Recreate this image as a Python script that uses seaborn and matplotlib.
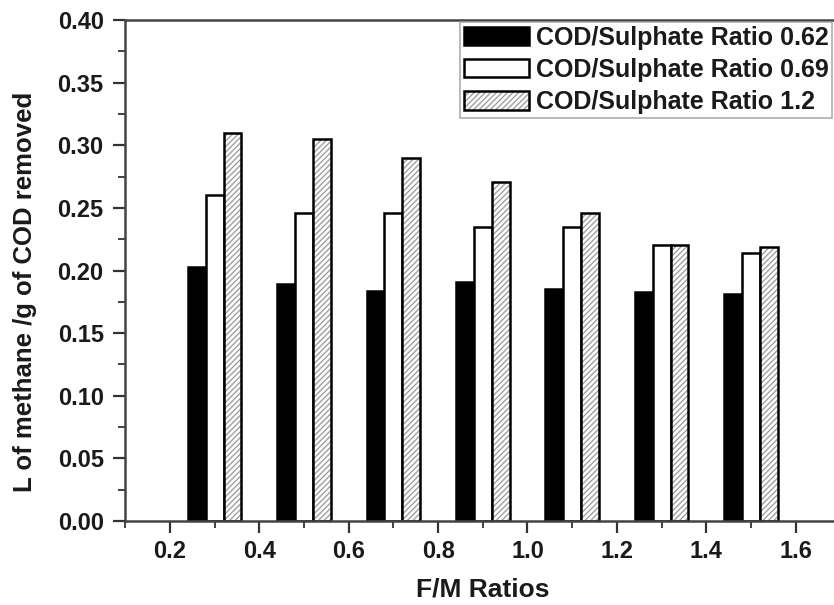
import matplotlib
matplotlib.use("Agg")
import matplotlib.pyplot as plt
from matplotlib.patches import Patch, Rectangle
from matplotlib.legend_handler import HandlerTuple
from matplotlib.ticker import MultipleLocator
import seaborn as sns
import pandas as pd

# F/M ratio groups and methane yields (L CH4 / g COD removed)
fm_ratios = [0.3, 0.5, 0.7, 0.9, 1.1, 1.3, 1.5]
series_names = ["COD/Sulphate Ratio 0.62", "COD/Sulphate Ratio 0.69", "COD/Sulphate Ratio 1.2"]
ratio_062 = [0.203, 0.189, 0.184, 0.191, 0.185, 0.183, 0.181]
ratio_069 = [0.260, 0.246, 0.246, 0.235, 0.235, 0.220, 0.214]
ratio_120 = [0.310, 0.305, 0.290, 0.271, 0.246, 0.220, 0.219]

x_tick_labels = ["0.2", "0.4", "0.6", "0.8", "1.0", "1.2", "1.4", "1.6"]
y_tick_labels = ["0.00", "0.05", "0.10", "0.15", "0.20", "0.25", "0.30", "0.35", "0.40"]

df = pd.DataFrame({
    "fm": fm_ratios * 3,
    "series": [s for s in series_names for _ in fm_ratios],
    "yield": ratio_062 + ratio_069 + ratio_120,
})

sns.set_theme(style="ticks")
plt.rcParams["font.family"] = ["Liberation Sans", "DejaVu Sans"]
plt.rcParams["font.weight"] = "bold"
plt.rcParams["hatch.linewidth"] = 1.0

fig = plt.figure(figsize=(8.34, 6.05), dpi=100)
ax = fig.add_axes([0.1502, 0.1388, 0.8574, 0.8281])

sns.barplot(data=df, x="fm", y="yield", hue="series", hue_order=series_names,
            native_scale=True, width=0.6, dodge=True,
            palette=["black", "white", "white"], edgecolor="black",
            linewidth=1.8, saturation=1, errorbar=None, legend=False, ax=ax)

hatch_color = "#a0a0a0"
hatch = "//////"
# hatched series: gray hatch with a black outline drawn on top
for p in ax.containers[2].patches:
    p.set_hatch(hatch)
    p.set_edgecolor(hatch_color)
    p.set_linewidth(0)
    ax.add_patch(Rectangle(p.get_xy(), p.get_width(), p.get_height(),
                           fill=False, edgecolor="black", linewidth=1.8,
                           zorder=p.get_zorder() + 0.1))

ax.set_xlim(0.1, 1.7)
ax.set_ylim(0.0, 0.40)
ax.xaxis.set_minor_locator(MultipleLocator(0.1))
ax.yaxis.set_minor_locator(MultipleLocator(0.025))
ax.set_xticks([float(t) for t in x_tick_labels])
ax.set_xticklabels(x_tick_labels)
ax.set_yticks([float(t) for t in y_tick_labels])
ax.set_yticklabels(y_tick_labels)

ax.tick_params(axis="both", which="major", direction="out", length=8.5, width=1.6,
               labelsize=17, color="#333333", labelcolor="#1a1a1a")
ax.tick_params(axis="y", which="major", pad=7)
ax.tick_params(axis="x", which="major", pad=5.5)
ax.tick_params(axis="both", which="minor", direction="out", length=5, width=1.3, color="#333333")
for lbl in ax.get_xticklabels() + ax.get_yticklabels():
    lbl.set_fontweight("bold")

for side in ["left", "bottom", "top", "right"]:
    ax.spines[side].set_visible(True)
    ax.spines[side].set_linewidth(1.8)
    ax.spines[side].set_color("#444444")

ax.set_xlabel("F/M Ratios", fontsize=19, fontweight="bold", labelpad=10, color="#1a1a1a")
ax.set_ylabel("L of methane /g of COD removed", fontsize=18.5, fontweight="bold",
              color="#1a1a1a")
ax.yaxis.set_label_coords(-0.124, 0.457)

handles = [
    Patch(facecolor="black", edgecolor="black", linewidth=1.8),
    Patch(facecolor="white", edgecolor="black", linewidth=1.8),
    (Patch(facecolor="white", edgecolor=hatch_color, hatch=hatch, linewidth=0),
     Patch(fill=False, edgecolor="black", linewidth=1.8)),
]
leg = fig.legend(handles, series_names, loc="upper right",
                 bbox_to_anchor=(832 / 834, 1 - 22 / 605), bbox_transform=fig.transFigure,
                 handler_map={tuple: HandlerTuple(ndivide=1, pad=0)},
                 prop={"weight": "bold", "size": 18}, frameon=True, fancybox=False,
                 shadow=False, handlelength=2.6, handleheight=0.75, handletextpad=0.28,
                 labelspacing=0.33, borderpad=0.15, borderaxespad=0)
leg.get_frame().set_edgecolor("#999999")
leg.get_frame().set_linewidth(1.2)
for t in leg.get_texts():
    t.set_color("#1a1a1a")

fig.savefig("out.png", dpi=100)
